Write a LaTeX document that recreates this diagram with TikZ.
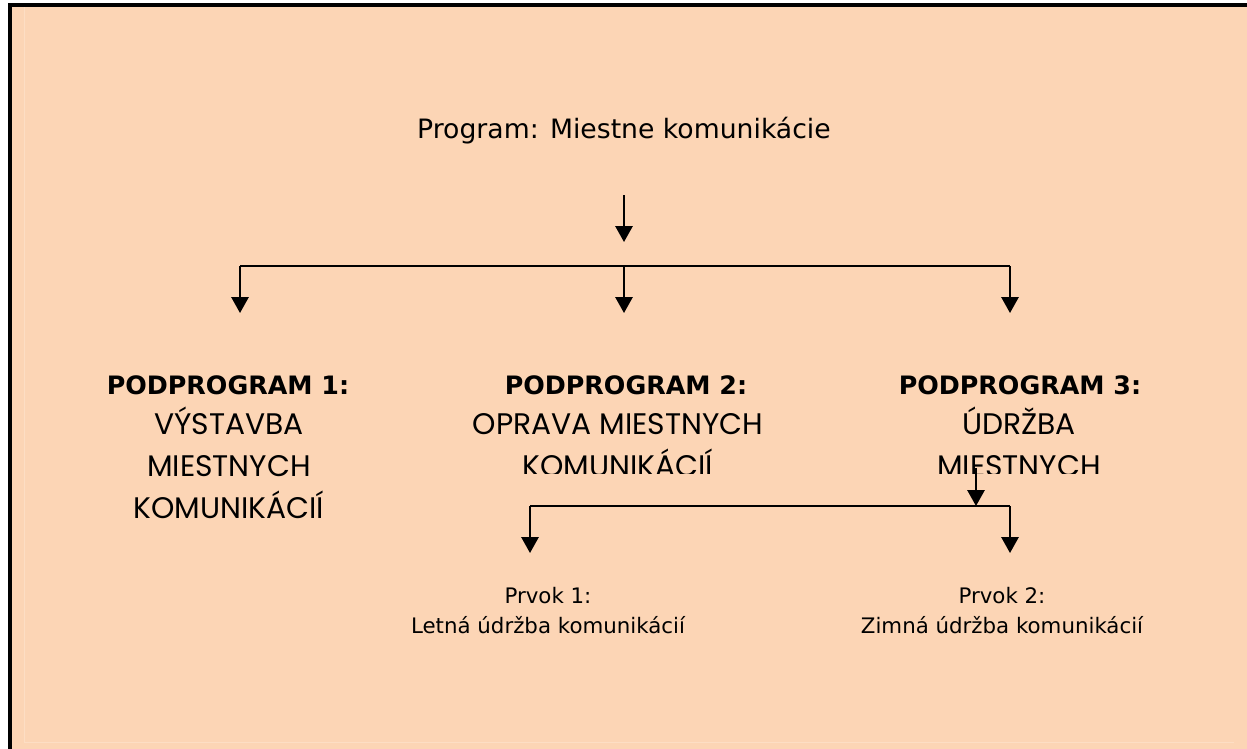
\documentclass[tikz,border=0pt]{standalone}
\usepackage{fontspec}
\setmainfont{DejaVu Sans}
\newfontfamily\gothicfont{Poppins}
\usetikzlibrary{positioning, arrows.meta}
\definecolor{PaperColor}{RGB}{252, 213, 181}
\definecolor{PaleLine}{RGB}{253, 222, 196}
\definecolor{LineColor}{RGB}{0, 0, 0}
\tikzset{
    headtext/.style={
        anchor=base,
        inner sep=0pt,
        font=\fontsize{19}{23}\selectfont\bfseries
    },
    bodytext/.style={
        anchor=base,
        inner sep=0pt,
        align=center,
        font=\fontsize{22.3}{31.5}\gothicfont
    },
    elemtext/.style={
        anchor=base,
        inner sep=0pt,
        align=center,
        font=\fontsize{16}{22.5}\selectfont
    },
    link/.style={
        draw=LineColor,
        line width=1.5pt,
        -{Triangle[width=13pt, length=12pt]}
    },
    bar/.style={
        draw=LineColor,
        line width=1.5pt
    }
}

\begin{document}
\begin{tikzpicture}[x=0.75pt, y=-0.75pt]

    % ============================================================================
    % PAPER
    % ============================================================================
    \useasboundingbox (0,0) rectangle (1247,749);
    \fill[PaperColor] (10,5) rectangle (1247,749);
    \draw[PaleLine, line width=0.75pt] (24,5) -- (24,742) -- (1234,742);
    \draw[LineColor, line width=3pt] (10,749) -- (10,5) -- (1247,5);

    % ============================================================================
    % PROGRAM
    % ============================================================================
    \node[font=\fontsize{20}{24}\selectfont, anchor=base, inner sep=0pt] (Program) at (624,138) {Program: Miestne komunikácie};

    % Sub programmes (base = last line)
    \node[headtext] (Head1) at (228,394) {PODPROGRAM 1:};
    \node[headtext] (Head2) at (626,394) {PODPROGRAM 2:};
    \node[headtext] (Head3) at (1020,394) {PODPROGRAM 3:};

    \node[bodytext] (Body1) at (229,518) {VÝSTAVBA\\MIESTNYCH\\KOMUNIKÁCIÍ};
    \begin{scope}
        \clip (440,400) rectangle (1247,473);
        \node[bodytext] (Body2) at (618,476) {OPRAVA MIESTNYCH\\KOMUNIKÁCIÍ};
        \node[bodytext] (Body3) at (1019,518) {ÚDRŽBA\\MIESTNYCH\\KOMUNIKÁCIÍ};
    \end{scope}

    % Elements
    \node[elemtext] (Elem1) at (548,633) {Prvok 1:\\Letná údržba komunikácií};
    \node[elemtext] (Elem2) at (1002,633) {Prvok 2:\\Zimná údržba komunikácií};

    % ============================================================================
    % CONNECTORS
    % ============================================================================
    \coordinate (TopStart) at (624,195);
    \coordinate (TopEnd) at (624,242);
    \coordinate (SplitL) at (240,266);
    \coordinate (SplitM) at (624,266);
    \coordinate (SplitR) at (1010,266);

    \draw[link] (TopStart) -- (TopEnd);
    \draw[bar] (SplitL) -- (SplitR);
    \draw[link] (SplitL) -- ++(0,47);
    \draw[link] (SplitM) -- ++(0,47);
    \draw[link] (SplitR) -- ++(0,47);

    % Podprogram 3 to its elements
    \coordinate (SubStart) at (976,468);
    \coordinate (SubL) at (530,506);
    \coordinate (SubR) at (1010,506);

    \draw[link] (SubStart) -- (976,506);
    \draw[bar] (SubL) -- (SubR);
    \draw[link] (SubL) -- ++(0,47);
    \draw[link] (SubR) -- ++(0,47);

\end{tikzpicture}
\end{document}
